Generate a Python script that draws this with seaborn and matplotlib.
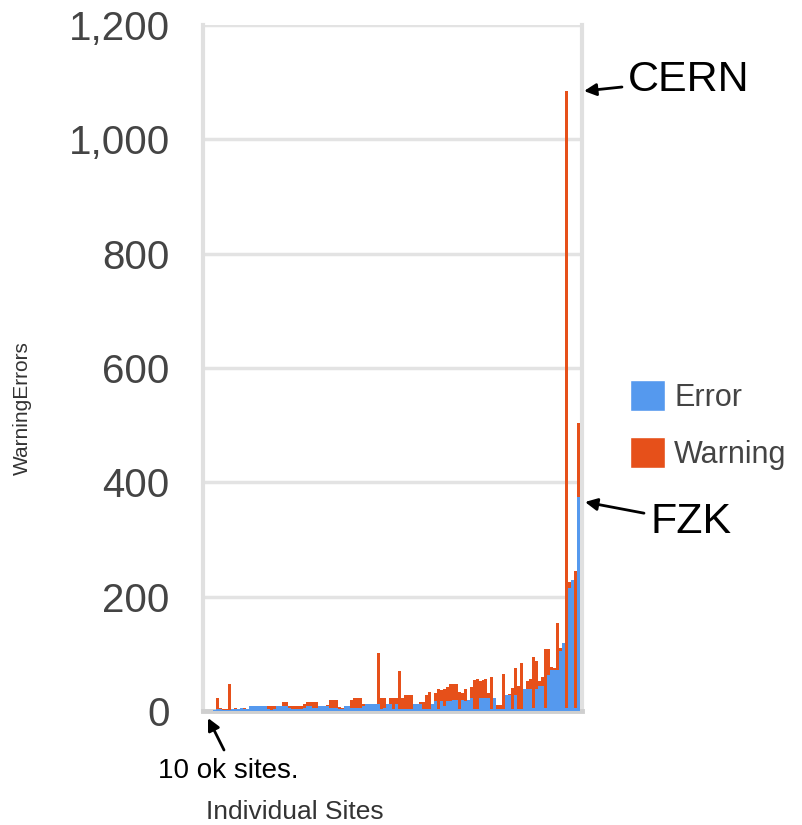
import numpy as np
import pandas as pd
import seaborn as sns
import matplotlib.pyplot as plt
from matplotlib.patches import Patch
from matplotlib.ticker import StrMethodFormatter

sns.set_theme(style="white")
plt.rcParams['font.family'] = ['Liberation Sans', 'DejaVu Sans']

# errors / warnings per site (left -> right)
errors = [2, 3, 3, 2, 2, 2, 4, 4, 4, 5, 4, 4, 8, 9, 9, 9, 8, 9, 3, 2,
          3, 9, 9, 8, 8, 6, 4, 3, 3, 3, 5, 9, 9, 5, 5, 9, 9, 9, 8, 5,
          5, 5, 4, 4, 9, 9, 5, 5, 6, 6, 9, 12, 12, 12, 12, 12, 3, 5, 12, 12,
          4, 12, 3, 3, 3, 3, 3, 13, 13, 13, 3, 3, 3, 13, 17, 3, 17, 8, 17, 17,
          20, 20, 3, 20, 18, 20, 22, 4, 4, 22, 22, 22, 22, 3, 22, 3, 3, 3, 28, 28,
          3, 28, 3, 3, 38, 38, 38, 5, 38, 44, 44, 5, 63, 72, 72, 72, 105, 119, 5, 215,
          230, 5, 375]
warnings = [0, 20, 3, 2, 2, 45, 0, 1, 0, 0, 1, 0, 1, 0, 0, 0, 1, 0, 6, 7,
            6, 0, 0, 7, 8, 3, 5, 6, 6, 6, 8, 6, 6, 10, 10, 0, 0, 0, 2, 14,
            14, 14, 3, 2, 0, 0, 14, 17, 16, 16, 4, 0, 0, 0, 0, 90, 19, 17, 0, 10,
            18, 10, 67, 19, 25, 25, 25, 0, 0, 2, 12, 25, 30, 0, 15, 35, 20, 30, 25, 30,
            28, 28, 30, 12, 20, 0, 20, 50, 52, 30, 33, 34, 10, 57, 0, 8, 8, 62, 0, 2,
            38, 47, 40, 81, 0, 15, 18, 89, 49, 8, 15, 103, 45, 5, 3, 82, 5, 0, 1080, 10,
            0, 240, 128]

sites = [f"s{i}" for i in range(len(errors))]
df = pd.DataFrame({"site": sites, "Error": errors, "Warning": warnings})
df["total"] = df["Error"] + df["Warning"]

blue = "#5599ee"
orange = "#e6501a"

fig = plt.figure(figsize=(8.02, 8.25), dpi=100)
ax = fig.add_axes([203 / 802, 114 / 825, (582 - 203) / 802, 686 / 825])

# stacked: draw totals in orange, then errors in blue over them
sns.barplot(data=df, x="site", y="total", color=orange, width=1.0,
            saturation=1, linewidth=0, ax=ax, order=sites, zorder=3)
sns.barplot(data=df, x="site", y="Error", color=blue, width=1.0,
            saturation=1, linewidth=0, ax=ax, order=sites, zorder=3)

n = len(sites)
ax.set_xlim(-3.9, n + 0.2)
ax.set_ylim(0, 1200)
ax.set_yticks([0, 200, 400, 600, 800, 1000, 1200])
ax.yaxis.set_major_formatter(StrMethodFormatter("{x:,.0f}"))
ax.tick_params(axis="y", labelsize=29, labelcolor="#444444", length=0, pad=24)
ax.set_xticks([])
ax.yaxis.grid(True, color="#e3e3e3", lw=2.5)
ax.set_axisbelow(True)
for s in ["left", "right"]:
    ax.spines[s].set_color("#e0e0e0")
    ax.spines[s].set_linewidth(3)
    ax.spines[s].set_zorder(1)
ax.spines["bottom"].set_color("#cfcfcf")
ax.spines["bottom"].set_linewidth(3.5)
ax.spines["top"].set_visible(False)

ax.set_xlabel("")
ax.set_ylabel("")
fig.text(22 / 802, 1 - 408 / 825, "WarningErrors", rotation=90, fontsize=15,
         color="#333333", ha="center", va="center")
fig.text(295 / 802, 1 - 812 / 825, "Individual Sites", fontsize=19,
         color="#333333", ha="center", va="center")

handles = [Patch(facecolor=blue, label="Error"), Patch(facecolor=orange, label="Warning")]
fig.legend(handles=handles, loc="center left", bbox_to_anchor=(630 / 802, 1 - 425 / 825),
           frameon=False, fontsize=22, handlelength=1.15, handleheight=1.15,
           handletextpad=0.3, labelspacing=0.8, labelcolor="#444444",
           borderpad=0, borderaxespad=0)

# annotations
fig_tr = fig.transFigure
ax.annotate("CERN", xy=(584 / 802, 1 - 91 / 825), xycoords=fig_tr,
            xytext=(628 / 802, 1 - 80 / 825), textcoords=fig_tr,
            fontsize=31, color="black", va="center", ha="left",
            arrowprops=dict(arrowstyle="-|>", color="black", lw=2, mutation_scale=18,
                            shrinkA=2, shrinkB=0))
ax.annotate("FZK", xy=(585 / 802, 1 - 502 / 825), xycoords=fig_tr,
            xytext=(650 / 802, 1 - 522 / 825), textcoords=fig_tr,
            fontsize=31, color="black", va="center", ha="left",
            arrowprops=dict(arrowstyle="-|>", color="black", lw=2, mutation_scale=18,
                            shrinkA=2, shrinkB=0))
ax.annotate("", xy=(208 / 802, 1 - 718 / 825), xycoords=fig_tr,
            xytext=(224 / 802, 1 - 750 / 825), textcoords=fig_tr,
            arrowprops=dict(arrowstyle="-|>", color="black", lw=2, mutation_scale=18,
                            shrinkA=0, shrinkB=0), annotation_clip=False)
fig.text(228 / 802, 1 - 771 / 825, "10 ok sites.", fontsize=20, color="black",
         ha="center", va="center")

fig.savefig("out.png", dpi=100)
